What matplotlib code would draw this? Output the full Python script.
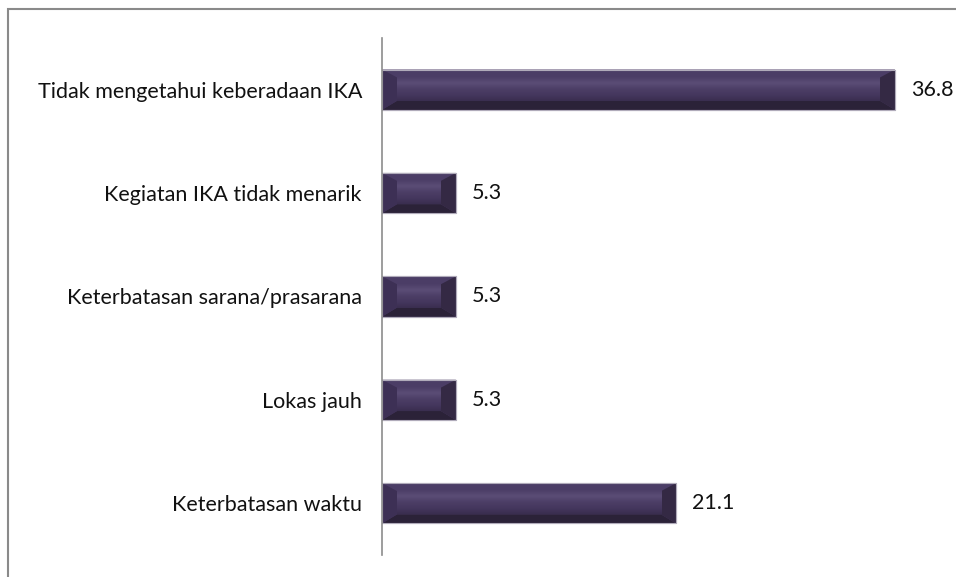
import matplotlib
matplotlib.use("Agg")
import matplotlib.pyplot as plt
from matplotlib.patches import Polygon, Rectangle
from matplotlib.colors import LinearSegmentedColormap
import numpy as np

categories = ["Tidak mengetahui keberadaan IKA", "Kegiatan IKA tidak menarik",
              "Keterbatasan sarana/prasarana", "Lokas jauh", "Keterbatasan waktu"]
values = [36.8, 5.3, 5.3, 5.3, 21.1]
labels = ["36.8", "5.3", "5.3", "5.3", "21.1"]

plt.rcParams['font.family'] = ['Lato', 'DejaVu Sans']

W, H = 956, 577
fig = plt.figure(figsize=(W / 100, H / 100), dpi=100)
ax = fig.add_axes([382 / W, 22 / H, (W - 382) / W, 517 / H])

ypos = np.arange(len(categories))[::-1]
bars = ax.barh(ypos, values, height=0.39, color="#45375e", edgecolor="#b8b4c0",
               linewidth=0.8, zorder=2)
ax.set_ylim(-0.5, len(categories) - 0.5)
ax.set_xlim(0, (W - 382) / 13.94)
ax.set_yticks(ypos)
ax.set_yticklabels(categories, fontsize=15.5, color="#111111")
ax.tick_params(axis='y', length=0, pad=14.4)
ax.set_xticks([])
for s in ["top", "right", "bottom"]:
    ax.spines[s].set_visible(False)
ax.spines["left"].set_color("#8c8c8c")
ax.spines["left"].set_linewidth(1.2)
ax.spines["left"].set_zorder(5)

# bevel overlays derived from each bar's geometry
fig.canvas.draw()
inv = ax.transData.inverted()
p0 = inv.transform((0, 0)); p1 = inv.transform((1, 1))
ux = p1[0] - p0[0]; uy = p1[1] - p0[1]
bx, bt, bb = 15 * ux, 8 * uy, 9 * uy
cmap = LinearSegmentedColormap.from_list(
    "f", ["#3a2e50", "#45375e", "#4c3e66", "#5b4d76", "#4d3f68"])
for b in bars:
    x0, y0 = b.get_x(), b.get_y()
    x1, y1 = x0 + b.get_width(), y0 + b.get_height()
    ix0, ix1 = x0 + bx, x1 - bx
    iy0, iy1 = y0 + bb, y1 - bt
    polys = [
        ([(x0, y1), (x1, y1), (ix1, iy1), (ix0, iy1)], "#4b3d66"),  # top
        ([(x0, y0), (x1, y0), (ix1, iy0), (ix0, iy0)], "#2b2238"),  # bottom
        ([(x0, y0), (x0, y1), (ix0, iy1), (ix0, iy0)], "#3d3055"),  # left
        ([(x1, y0), (x1, y1), (ix1, iy1), (ix1, iy0)], "#342944"),  # right
    ]
    for pts, c in polys:
        ax.add_patch(Polygon(pts, closed=True, facecolor=c, edgecolor="none", zorder=3))
    ax.imshow(np.linspace(0, 1, 50).reshape(-1, 1), cmap=cmap, aspect="auto",
              extent=(ix0, ix1, iy0, iy1), origin="lower", zorder=3.5,
              interpolation="bilinear")
    ax.add_patch(Rectangle((x0, y0), x1 - x0, y1 - y0, facecolor="none",
                           edgecolor="#b0abba", linewidth=0.8, zorder=4))

ax.set_xlim(0, (W - 382) / 13.94)
ax.set_ylim(-0.5, len(categories) - 0.5)
ax.bar_label(bars, labels=labels, padding=11.5, fontsize=15.5, color="#111111")

fig.patches.append(Rectangle((8 / W, -0.1), 1.2, (H - 9) / H + 0.1,
                             transform=fig.transFigure, fill=False,
                             edgecolor="#8a8a8a", linewidth=1.5))

fig.savefig("out.png", dpi=100)
